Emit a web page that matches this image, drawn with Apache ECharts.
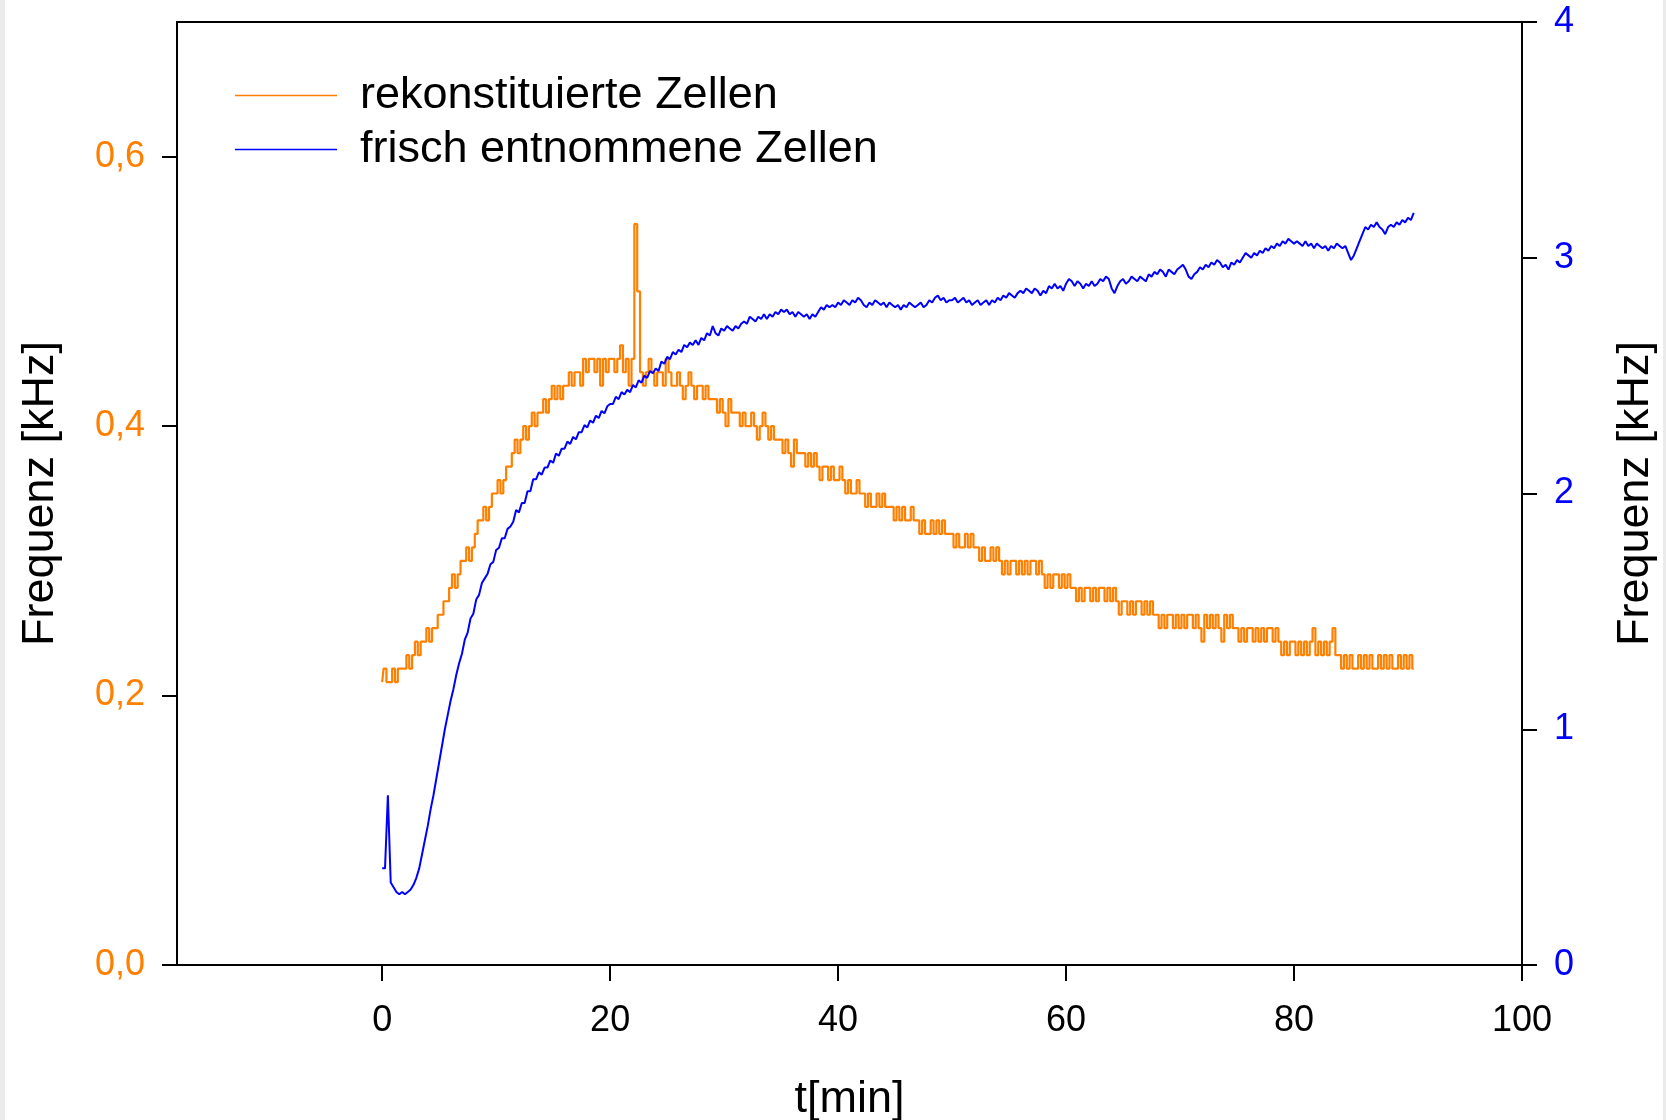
<!DOCTYPE html>
<html>
<head>
<meta charset="utf-8">
<script src="https://cdn.jsdelivr.net/npm/echarts@6/dist/echarts.min.js"></script>
<style>
html,body{margin:0;padding:0;background:#fff;}
#chart{width:1666px;height:1120px;}
</style>
</head>
<body>
<div id="chart"></div>
<script>
// time axis samples [min]
const times = [
0,.25,.5,.75,1,1.25,1.5,1.75,2,2.25,2.5,2.75,3,3.25,3.5,3.75,4,4.25,4.5,4.75,
5,5.25,5.5,5.75,6,6.25,6.5,6.75,7,7.25,7.5,7.75,8,8.25,8.5,8.75,9,9.25,9.5,9.75,
10,10.25,10.5,10.75,11,11.25,11.5,11.75,12,12.25,12.5,12.75,13,13.25,13.5,13.75,14,14.25,14.5,14.75,
15,15.25,15.5,15.75,16,16.25,16.5,16.75,17,17.25,17.5,17.75,18,18.25,18.5,18.75,19,19.25,19.5,19.75,
20,20.25,20.5,20.75,21,21.25,21.5,21.75,22,22.25,22.5,22.75,23,23.25,23.5,23.75,24,24.25,24.5,24.75,
25,25.25,25.5,25.75,26,26.25,26.5,26.75,27,27.25,27.5,27.75,28,28.25,28.5,28.75,29,29.25,29.5,29.75,
30,30.25,30.5,30.75,31,31.25,31.5,31.75,32,32.25,32.5,32.75,33,33.25,33.5,33.75,34,34.25,34.5,34.75,
35,35.25,35.5,35.75,36,36.25,36.5,36.75,37,37.25,37.5,37.75,38,38.25,38.5,38.75,39,39.25,39.5,39.75,
40,40.25,40.5,40.75,41,41.25,41.5,41.75,42,42.25,42.5,42.75,43,43.25,43.5,43.75,44,44.25,44.5,44.75,
45,45.25,45.5,45.75,46,46.25,46.5,46.75,47,47.25,47.5,47.75,48,48.25,48.5,48.75,49,49.25,49.5,49.75,
50,50.25,50.5,50.75,51,51.25,51.5,51.75,52,52.25,52.5,52.75,53,53.25,53.5,53.75,54,54.25,54.5,54.75,
55,55.25,55.5,55.75,56,56.25,56.5,56.75,57,57.25,57.5,57.75,58,58.25,58.5,58.75,59,59.25,59.5,59.75,
60,60.25,60.5,60.75,61,61.25,61.5,61.75,62,62.25,62.5,62.75,63,63.25,63.5,63.75,64,64.25,64.5,64.75,
65,65.25,65.5,65.75,66,66.25,66.5,66.75,67,67.25,67.5,67.75,68,68.25,68.5,68.75,69,69.25,69.5,69.75,
70,70.25,70.5,70.75,71,71.25,71.5,71.75,72,72.25,72.5,72.75,73,73.25,73.5,73.75,74,74.25,74.5,74.75,
75,75.25,75.5,75.75,76,76.25,76.5,76.75,77,77.25,77.5,77.75,78,78.25,78.5,78.75,79,79.25,79.5,79.75,
80,80.25,80.5,80.75,81,81.25,81.5,81.75,82,82.25,82.5,82.75,83,83.25,83.5,83.75,84,84.25,84.5,84.75,
85,85.25,85.5,85.75,86,86.25,86.5,86.75,87,87.25,87.5,87.75,88,88.25,88.5,88.75,89,89.25,89.5,89.75,
90,90.25,90.5
];

// rekonstituierte Zellen [kHz] (left axis)
const rekonstituiert = [
.21,.22,.21,.21,.22,.21,.22,
.22,.22,.23,.22,
.23,.24,.23,.24,
.24,.25,.24,.25,
.25,.26,
.26,.27,.27,
.28,.29,.28,
.29,.30,
.30,.31,.30,
.31,.32,.33,
.33,.34,.33,
.34,.35,
.35,.36,.35,
.36,.37,
.37,.38,.39,.38,
.39,.40,.39,
.40,.41,.40,.41,.41,
.42,.41,.42,.43,
.42,.43,.42,.43,.43,
.44,.43,.44,.44,.43,
.45,.44,.45,.45,.44,.45,.43,.45,.44,.45,.45,.44,.45,.46,.44,.45,.43,.45,
.55,
.50,
.44,.43,.44,.45,.44,.43,.44,.44,.43,.45,.44,.43,
.43,.44,.43,.42,.43,.44,.43,.42,.43,
.43,.42,.43,.42,.42,
.42,.41,.42,.41,.40,.42,.41,.41,
.41,.40,.41,.40,.40,.41,.40,.39,.40,.41,
.40,.39,.40,.39,.39,
.39,.38,.39,.38,.37,.39,.38,.38,
.38,.37,.38,.37,.38,.37,.36,.37,
.37,.36,.37,.36,.36,.37,
.36,.35,.36,.35,.35,.36,.35,
.35,.34,.35,.34,.34,.35,.34,.35,.34,.34,
.34,.33,.34,.33,.34,.33,.33,.34,.33,
.33,.32,.33,.32,.32,.33,.32,.33,.32,.33,.32,.32,
.32,.31,.32,.31,.31,.32,.31,.32,.31,
.31,.30,.31,.30,.30,.31,.30,.31,
.30,.29,.30,.29,.30,.30,.29,.30,.29,.30,.29,.30,.30,.29,.30,
.29,.28,.29,.28,.29,.29,.28,.29,.28,.29,.28,
.28,.27,.28,.27,.28,.28,.27,.28,.27,.28,.28,.27,.28,.27,.28,
.27,.26,.27,.27,.26,.27,.26,.27,.27,.26,.27,.26,.27,.26,
.26,.25,.26,.25,.26,.26,.25,.26,.25,.26,.25,.26,.26,.25,.26,.25,.24,.26,.25,.26,.25,.26,.25,.24,.26,.25,.26,.25,
.25,.24,.25,.24,.25,.25,.24,.25,.24,.25,.24,.25,.25,.24,.25,
.24,.23,.24,.23,.24,.24,.23,.24,.23,.24,.23,.24,.25,.23,.24,.23,.24,.23,.24,.25,.23,
.23,.22,.23,.22,.23,.22,.22,.23,.22,.23,.22,.23,.22,.22,.23,.22,.23,.22,.23,.22,.22,.23,.22,.23,.22,.23,.22
];

// frisch entnommene Zellen [kHz] (right axis)
const frisch = [
.41,.41,.72,.35,.33,.31,.30,.31,.30,.31,
.32,.34,.37,.41,.47,.53,.59,.66,.72,.79,
.86,.93,1.00,1.06,1.12,1.17,1.23,1.28,1.32,1.38,
1.41,1.47,1.49,1.55,1.57,1.62,1.64,1.66,1.70,1.71,
1.76,1.77,1.81,1.81,1.85,1.86,1.88,1.93,1.92,1.96,1.96,2.01,2.01,2.06,2.06,2.09,2.08,2.11,2.11,2.14,
2.13,2.17,2.16,2.19,2.19,2.22,2.21,2.24,2.23,2.26,2.26,2.29,2.28,2.31,2.30,2.33,2.32,2.35,2.34,2.37,
2.38,2.38,2.41,2.40,2.43,2.42,2.44,2.43,2.46,2.45,2.48,2.47,2.50,2.49,2.52,2.51,2.53,2.52,2.56,2.55,
2.58,2.57,2.60,2.59,2.61,2.60,2.63,2.62,2.64,2.63,2.65,2.63,2.66,2.65,2.68,2.67,2.71,2.68,2.67,2.70,
2.69,2.71,2.70,2.69,2.71,2.70,2.72,2.73,2.72,2.75,2.74,2.73,2.75,2.74,2.76,2.74,2.76,2.75,2.77,2.76,
2.78,2.77,2.78,2.76,2.77,2.75,2.77,2.76,2.75,2.76,2.74,2.76,2.75,2.77,2.79,2.78,2.80,2.79,2.80,2.79,
2.81,2.80,2.82,2.81,2.80,2.82,2.81,2.83,2.82,2.80,2.79,2.81,2.80,2.82,2.81,2.80,2.81,2.79,2.81,2.80,
2.79,2.80,2.78,2.80,2.79,2.81,2.80,2.79,2.80,2.81,2.79,2.80,2.82,2.81,2.83,2.84,2.82,2.83,2.81,2.82,
2.82,2.83,2.81,2.82,2.83,2.81,2.82,2.80,2.81,2.82,2.80,2.81,2.82,2.80,2.82,2.81,2.83,2.82,2.84,2.83,
2.85,2.84,2.83,2.85,2.86,2.85,2.87,2.86,2.85,2.87,2.86,2.84,2.86,2.85,2.88,2.87,2.89,2.87,2.88,2.86,
2.89,2.91,2.90,2.88,2.90,2.89,2.87,2.89,2.88,2.90,2.88,2.89,2.91,2.90,2.92,2.91,2.87,2.85,2.88,2.90,
2.91,2.89,2.90,2.92,2.91,2.90,2.92,2.91,2.90,2.93,2.92,2.94,2.93,2.95,2.94,2.92,2.95,2.94,2.93,2.95,
2.96,2.97,2.95,2.92,2.91,2.93,2.94,2.96,2.95,2.97,2.96,2.98,2.97,2.99,2.98,2.96,2.97,2.95,2.98,2.97,
2.99,2.98,3.00,3.02,3.01,3.00,3.02,3.01,3.03,3.02,3.04,3.03,3.05,3.04,3.06,3.05,3.07,3.06,3.08,3.07,
3.06,3.07,3.06,3.05,3.07,3.05,3.06,3.04,3.06,3.05,3.04,3.05,3.03,3.05,3.04,3.06,3.05,3.04,3.05,3.02,
2.99,3.01,3.04,3.07,3.10,3.13,3.12,3.14,3.13,3.15,3.13,3.12,3.10,3.13,3.14,3.13,3.15,3.14,3.16,3.15,
3.17,3.16,3.19
];

const xTicks = [0, 20, 40, 60, 80, 100];
const leftTicks = [0, 0.2, 0.4, 0.6];
const seriesNames = ['rekonstituierte Zellen', 'frisch entnommene Zellen'];

const ORANGE = '#FF8000';
const BLUE = '#0000FF';
const FONT = '"Liberation Sans", Arial, sans-serif';

const chart = echarts.init(document.getElementById('chart'), null, {renderer: 'canvas'});

const graphics = [
  {type: 'rect', left: 0, top: 0, shape: {width: 5, height: 1120}, style: {fill: '#ebebeb'}, silent: true},
  {type: 'rect', left: 1663, top: 0, shape: {width: 3, height: 1120}, style: {fill: '#ebebeb'}, silent: true}
];
if (times.length !== rekonstituiert.length || times.length !== frisch.length) {
  graphics.push({type: 'text', left: 600, top: 500, style: {text: 'LEN ' + times.length + ' ' + rekonstituiert.length + ' ' + frisch.length, fontSize: 40, fill: 'red'}});
}

const option = {
  animation: false,
  backgroundColor: '#ffffff',
  textStyle: {fontFamily: FONT},
  graphic: graphics,
  grid: {
    left: 177, right: 144, top: 22, bottom: 155,
    show: true, borderColor: '#000', borderWidth: 2, backgroundColor: 'transparent',
    containLabel: false, outerBoundsMode: 'none'
  },
  legend: {
    orient: 'vertical',
    left: 230, top: 68,
    itemWidth: 102, itemHeight: 14, itemGap: 9,
    icon: 'path://M0,0 L100,0 L100,1.5 L0,1.5 Z',
    data: seriesNames,
    textStyle: {fontSize: 45, color: '#000', fontFamily: FONT, lineHeight: 45, padding: [0, 0, 0, 18]}
  },
  xAxis: {
    type: 'value', min: -18, max: 100,
    axisLine: {show: true, onZero: false, lineStyle: {color: '#000', width: 2}},
    axisTick: {show: true, customValues: xTicks, length: 16, lineStyle: {color: '#000', width: 2}},
    axisLabel: {customValues: xTicks, fontSize: 36, color: '#000', margin: 38, fontFamily: FONT},
    splitLine: {show: false},
    name: 't[min]', nameLocation: 'middle', nameGap: 112,
    nameTextStyle: {fontSize: 45, color: '#000', fontFamily: FONT}
  },
  yAxis: [
    {
      type: 'value', min: 0, max: 0.7, position: 'left',
      axisLine: {show: true, onZero: false, lineStyle: {color: '#000', width: 2}},
      axisTick: {show: true, customValues: leftTicks, length: 15, lineStyle: {color: '#000', width: 2}},
      axisLabel: {customValues: leftTicks, fontSize: 36, color: ORANGE, margin: 32, fontFamily: FONT,
        formatter: v => v.toFixed(1).replace('.', ',')},
      splitLine: {show: false},
      name: 'Frequenz [kHz]', nameLocation: 'middle', nameRotate: 90, nameGap: 114,
      nameTextStyle: {fontSize: 45, color: '#000', fontFamily: FONT}
    },
    {
      type: 'value', min: 0, max: 4, interval: 1, position: 'right',
      axisLine: {show: true, onZero: false, lineStyle: {color: '#000', width: 2}},
      axisTick: {show: true, length: 15, lineStyle: {color: '#000', width: 2}},
      axisLabel: {fontSize: 36, color: BLUE, margin: 32, fontFamily: FONT},
      splitLine: {show: false},
      name: 'Frequenz [kHz]', nameLocation: 'middle', nameRotate: 90, nameGap: 91,
      nameTextStyle: {fontSize: 45, color: '#000', fontFamily: FONT}
    }
  ],
  series: [
    {
      name: seriesNames[0], type: 'line', yAxisIndex: 0, step: 'middle',
      data: times.map((t, i) => [t, rekonstituiert[i]]),
      showSymbol: false, symbol: 'none',
      lineStyle: {color: ORANGE, width: 2.2}, itemStyle: {color: ORANGE}
    },
    {
      name: seriesNames[1], type: 'line', yAxisIndex: 1,
      data: times.map((t, i) => [t, frisch[i]]),
      showSymbol: false, symbol: 'none',
      lineStyle: {color: BLUE, width: 2}, itemStyle: {color: BLUE}
    }
  ]
};
chart.setOption(option);
</script>
</body>
</html>
